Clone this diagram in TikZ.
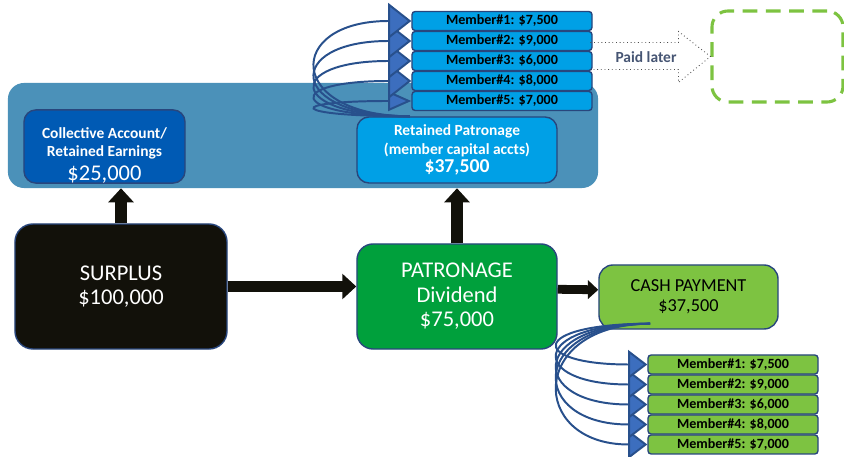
\documentclass[tikz,border=0pt]{standalone}
\usepackage{fontspec}
\setmainfont{Carlito}
\usetikzlibrary{arrows.meta}
\definecolor{panel_blue}{RGB}{75,145,185}
\definecolor{acct_blue}{RGB}{0,90,180}
\definecolor{ret_blue}{RGB}{0,160,230}
\definecolor{edge_blue}{RGB}{40,70,125}
\definecolor{swirl_blue}{RGB}{40,80,140}
\definecolor{head_blue}{RGB}{60,110,190}
\definecolor{div_green}{RGB}{0,160,60}
\definecolor{cash_green}{RGB}{125,195,65}
\definecolor{surplus_black}{RGB}{18,17,10}
\definecolor{later_gray}{RGB}{70,85,115}
\tikzstyle{acctbox}=[rectangle,draw=edge_blue,line width=1pt,inner sep=0pt,align=center]
\tikzstyle{mbr}=[acctbox,rounded corners=0.08cm,minimum height=0.475cm,text=black,
  font=\fontsize{10}{12}\selectfont\bfseries]
\tikzstyle{fat}=[draw=surplus_black,line width=0.28cm,-{Triangle[width=0.62cm,length=0.35cm]}]
\tikzstyle{swirl}=[draw=swirl_blue,line width=1.4pt]

\begin{document}
\begin{tikzpicture}[x=0.025cm,y=-0.025cm]
    \useasboundingbox (0,0) rectangle (844,457);
    % retained section
    \node [rectangle,fill=panel_blue,rounded corners=0.4cm,minimum width=14.75cm,minimum height=2.625cm] (panel) at (303,135.5) {};
    \node [style=acctbox,fill=acct_blue,rounded corners=0.3cm,minimum width=4.025cm,minimum height=1.825cm,text=white,
      font=\fontsize{11}{13}\selectfont\bfseries] (collective) at (104.5,146.5)
      {\rule{0pt}{20pt}Collective Account/\\Retained Earnings\\[4pt]{\mdseries\fontsize{16}{18}\selectfont \$25,000}};
    \node [style=acctbox,fill=ret_blue,rounded corners=0.3cm,minimum width=5cm,minimum height=1.65cm,text=white,
      font=\fontsize{11}{13}\selectfont\bfseries] (retained) at (457,150)
      {Retained Patronage\\(member capital accts)\\{\fontsize{14}{16}\selectfont \$37,500}};
    % main flow
    \node [style=acctbox,fill=surplus_black,rounded corners=0.45cm,minimum width=5.3cm,minimum height=3.125cm,text=white,
      font=\fontsize{16}{17}\selectfont] (surplus) at (121,286.5) {SURPLUS\\\$100,000};
    \node [style=acctbox,fill=div_green,rounded corners=0.4cm,minimum width=5cm,minimum height=2.625cm,text=white,
      font=\fontsize{16}{17.5}\selectfont] (patronage) at (457,296.5) {PATRONAGE\\Dividend\\\$75,000};
    \node [style=acctbox,fill=cash_green,rounded corners=0.35cm,minimum width=4.475cm,minimum height=1.6cm,text=black,
      font=\fontsize{13}{14.5}\selectfont] (cash) at (688.5,297) {CASH PAYMENT\\\$37,500};
    \draw [style=fat] (surplus.north) to (surplus.north |- panel.south);
    \draw [style=fat] (patronage.north) to (patronage.north |- panel.south);
    \draw [style=fat] (surplus.east) to (surplus.east -| patronage.west);
    \draw [style=fat,line width=0.22cm,-{Triangle[width=0.46cm,length=0.26cm]}]
      ([yshift=0.18cm]patronage.east) to ([yshift=0.18cm]cash.west);
    % member accounts
    \foreach \i/\amt in {1/{7,500},2/{9,000},3/{6,000},4/{8,000},5/{7,000}} {
      \node [style=mbr,fill=ret_blue,minimum width=4.5cm] (rm\i) at (502,1+20*\i) {Member\#\i: \$\amt};
      \node [style=mbr,fill=cash_green,minimum width=4.25cm] (cm\i) at (733,344.5+20*\i) {Member\#\i: \$\amt};
    }
    \coordinate (rpsrc) at ([xshift=-1.175cm]retained.north);
    \coordinate (cpsrc) at ([xshift=-0.96cm,yshift=0.15cm]cash.south);
    \foreach \i/\w in {5/0.5cm,4/0.9cm,3/0.9cm,2/0.9cm,1/0.9cm}
      \draw [style=swirl,-{Triangle[width=\w,length=0.58cm,fill=head_blue]}] (rpsrc)
        .. controls ([xshift=-3.1cm]rpsrc) and ([xshift=-3.175cm]rm\i.west) .. (rm\i.west);
    \foreach \i in {5,4,...,1}
      \draw [style=swirl,-{Triangle[width=0.72cm,length=0.48cm,fill=head_blue]}] (cpsrc)
        .. controls ([xshift=-3.05cm]cpsrc) and ([xshift=-2.975cm]cm\i.west) .. (cm\i.west);
    % paid later
    \node [rectangle,draw=cash_green,line width=2.2pt,dash pattern=on 10.5pt off 6pt,rounded corners=0.4cm,
      minimum width=3.275cm,minimum height=2.275cm] (later) at (777.5,56.5) {};
    \draw [draw=black!70,line width=0.6pt,dotted] (later.west) ++(-120,-14) -- ++(88,0) -- ++(0,-11)
      -- (later.west) -- ++(-32,26) -- ++(0,-13) -- ++(-88,0);
    \node [text=later_gray,font=\fontsize{11}{13}\selectfont\bfseries] (paid) at (646,57) {Paid later};
  \end{tikzpicture}
\end{document}
